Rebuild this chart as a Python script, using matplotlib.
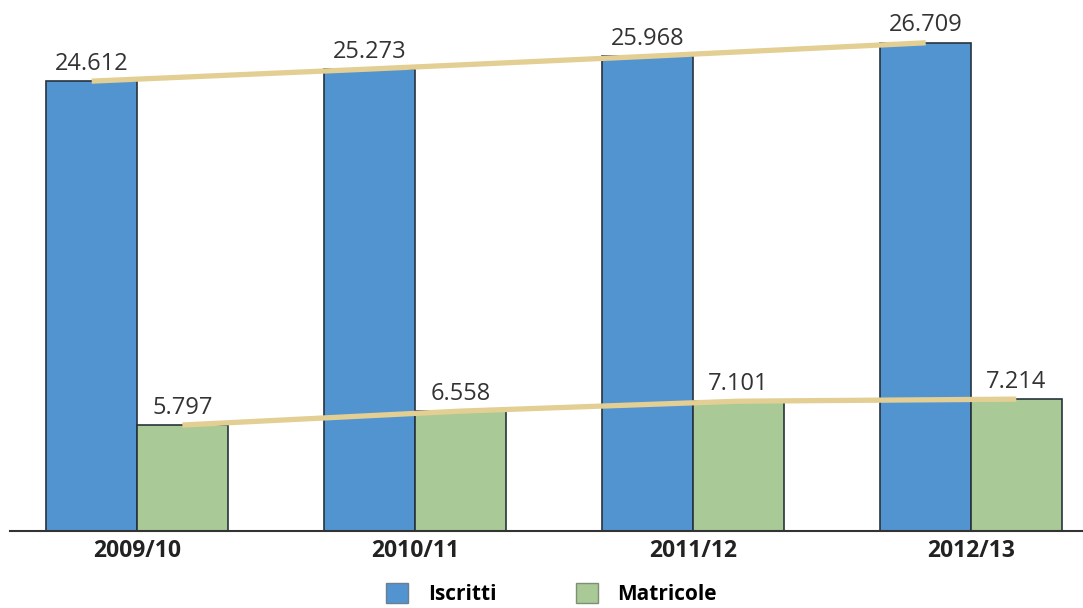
import matplotlib
matplotlib.use("Agg")
import matplotlib.pyplot as plt
from matplotlib.patches import Patch
import numpy as np

# data
years = ["2009/10", "2010/11", "2011/12", "2012/13"]
iscritti = [24612, 25273, 25968, 26709]
matricole = [5797, 6558, 7101, 7214]
iscritti_labels = ["24.612", "25.273", "25.968", "26.709"]
matricole_labels = ["5.797", "6.558", "7.101", "7.214"]

blue = "#5294d0"
green = "#a9c996"
tan = "#e3cf93"
edge = "#27333d"

plt.rcParams["font.family"] = ["Open Sans", "DejaVu Sans"]

fig = plt.figure(figsize=(10.83, 6.08), dpi=100)
ax = fig.add_axes([10 / 1083, 77 / 608, 1073 / 1083, 531 / 608])

x = np.arange(len(years))
w = 0.326

ax.bar(x - w / 2, iscritti, w, color=blue, edgecolor=edge, linewidth=1.2, zorder=2)
ax.bar(x + w / 2, matricole, w, color=green, edgecolor=edge, linewidth=1.2, zorder=2)

# trend lines drawn across the bar tops
ax.plot(x - w / 2, iscritti, color=tan, linewidth=3.8, solid_capstyle="butt", zorder=3)
ax.plot(x + w / 2, matricole, color=tan, linewidth=3.8, solid_capstyle="butt", zorder=3)

for i in range(len(years)):
    ax.text(x[i] - w / 2, iscritti[i] + 300, iscritti_labels[i], ha="center", va="bottom",
            fontsize=17, color="#333333", zorder=4)
    ax.text(x[i] + w / 2, matricole[i] + 300, matricole_labels[i], ha="center", va="bottom",
            fontsize=17, color="#333333", zorder=4)

ax.set_xlim(-0.457, 3.403)
ax.set_ylim(0, 29050)

for s in ["top", "right", "left"]:
    ax.spines[s].set_visible(False)
ax.spines["bottom"].set_color("#333333")
ax.spines["bottom"].set_linewidth(1.5)
ax.set_yticks([])
ax.set_xticks(x)
ax.set_xticklabels(years, fontsize=16.5, fontweight="bold", color="#222222")
ax.tick_params(axis="x", length=0, pad=6)

handles = [Patch(facecolor=blue, edgecolor="#6a7f90", label="Iscritti"),
           Patch(facecolor=green, edgecolor="#7f8f77", label="Matricole")]
fig.legend(handles=handles, loc="center", bbox_to_anchor=(551.5 / 1083, 14 / 608), ncol=2,
           frameon=False, prop={"size": 15, "weight": "bold"}, handlelength=1.06,
           handleheight=1.06, columnspacing=3.8, handletextpad=0.95, borderpad=0.1)

fig.savefig("out.png", dpi=100)
